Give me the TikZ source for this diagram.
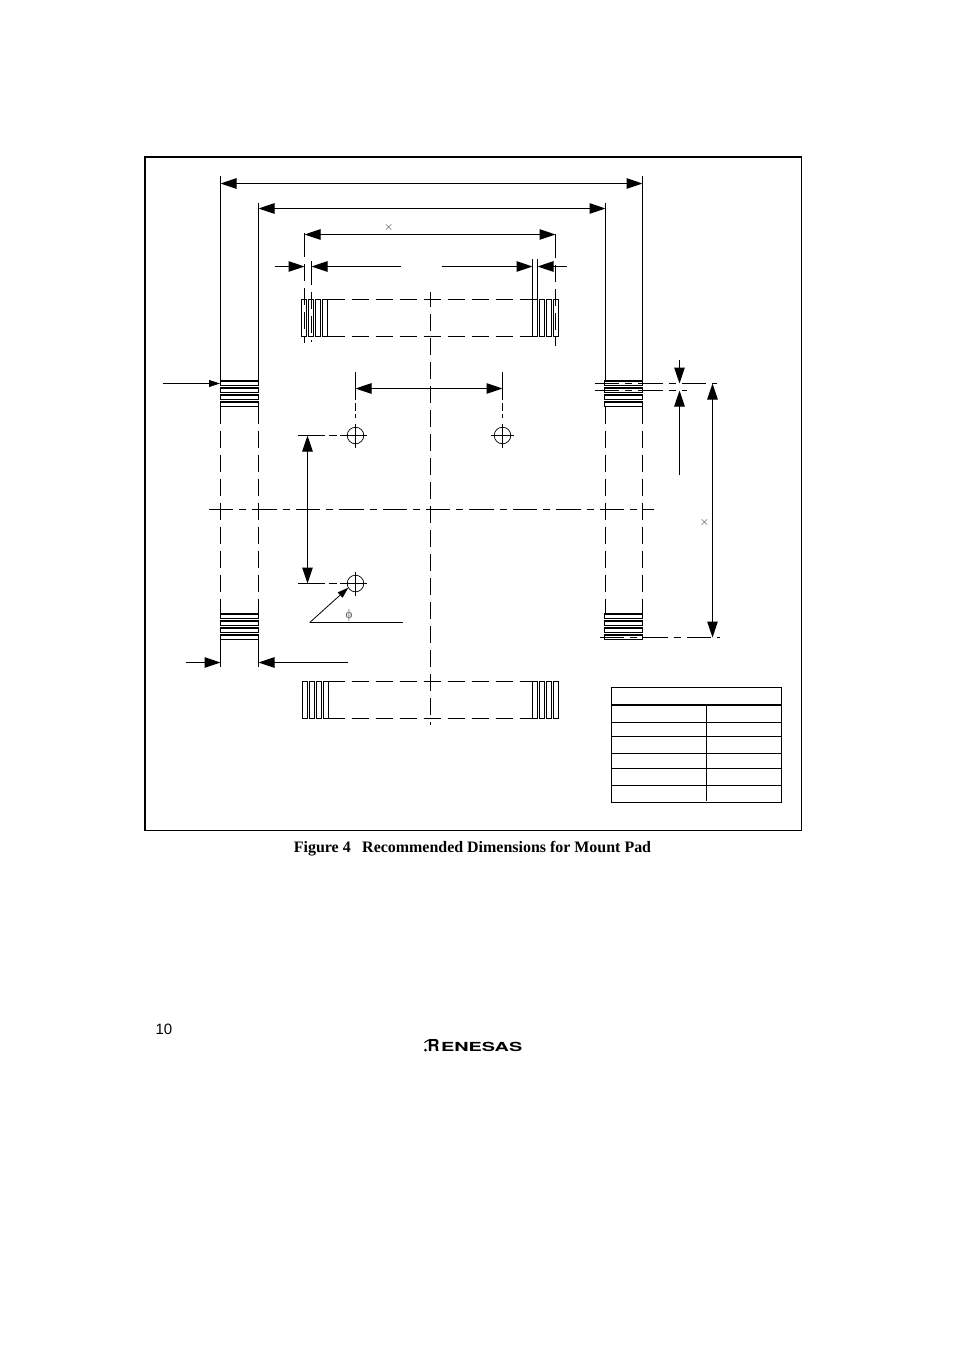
\documentclass[tikz,border=0pt]{standalone}
\usepackage{fontspec}
\setmainfont{Liberation Serif}
\newfontfamily\arialf{Liberation Sans}
\newfontfamily\logof{TeX Gyre Heros}
\usetikzlibrary{arrows.meta}
\tikzset{
  ln/.style={line width=1pt,black},
  padln/.style={line width=1pt,black},
  dsh/.style={ln,dash pattern=on 17pt off 7pt},
  extd/.style={ln,dash pattern=on 24pt off 7pt on 17pt off 7pt on 17pt off 7pt on 17pt off 7pt on 40pt off 10pt},
  holed/.style={ln,dash pattern=on 27.5pt off 3.5pt on 8pt off 3pt on 4pt off 100pt},
  cdl/.style={ln,dash pattern=on 24.3pt off 6pt on 7pt off 6.1pt},
  dimboth/.style={ln,{Triangle[length=16pt,width=10.5pt]}-{Triangle[length=16pt,width=10.5pt]}},
  dimend/.style={ln,-{Triangle[length=16pt,width=10.5pt]}},
  smallend/.style={ln,-{Triangle[length=11pt,width=7pt]}},
  lab/.style={inner sep=0pt,outer sep=0pt}
}
\begin{document}
\begin{tikzpicture}[x=1pt,y=-1pt]
\useasboundingbox (0,0) rectangle (954,1350);
\fill[white] (0,0) rectangle (954,1350);
% frame
\draw[line width=1pt] (145.5,157.5) rectangle (801.5,830.5);
\draw[line width=2pt] (145,830.5) -- (145,157) -- (802,157);
% outer dimensions
\draw[ln] (220.5,176) -- (220.5,380);
\draw[ln] (642.5,176) -- (642.5,380);
\draw[dimboth] (220.5,183.5) -- (642.5,183.5);
\draw[ln] (258.5,203) -- (258.5,380);
\draw[ln] (605.5,203) -- (605.5,380);
\draw[dimboth] (258.5,208.5) -- (605.5,208.5);
\draw[dimboth] (304.5,234.5) -- (555.5,234.5);
\node[lab,font=\fontsize{13}{13}\selectfont,text=black!80] (tA) at (388.8,227.8) {$\times$};
% extension lines pads
\draw[extd] (304.5,233) -- (304.5,343);
\draw[extd] (311.5,261) -- (311.5,342);
\draw[extd] (555.5,234) -- (555.5,346);
\draw[ln] (532.5,259) -- (532.5,299);
\draw[ln] (537.5,259) -- (537.5,336.5);
% narrow dims
\draw[dimend] (275,266.5) -- (304.5,266.5);
\draw[dimend] (400.5,266.5) -- (311.5,266.5);
\draw[dimend] (442,266.5) -- (532.5,266.5);
\draw[dimend] (567,266.5) -- (537.5,266.5);
% horizontal pads
\foreach \a in {301.5,308.5,315.5,322.5}
  \draw[padln] (\a,299.5) rectangle +(5,37);
\foreach \a in {532.5,539.5,546.5,553.5}
  \draw[padln] (\a,299.5) rectangle +(5,37);
\foreach \a in {302.5,309.5,316.5,323.5}
  \draw[padln] (\a,681.5) rectangle +(5,37);
\foreach \a in {532.5,539.5,546.5,553.5}
  \draw[padln] (\a,681.5) rectangle +(5,37);
\draw[dsh] (327.5,299.5) -- (532.5,299.5);
\draw[dsh] (327.5,336.5) -- (532.5,336.5);
\draw[dsh] (327.5,681.5) -- (532.5,681.5);
\draw[dsh] (327.5,718.5) -- (532.5,718.5);
% vertical pads
\foreach \x in {220.5,604.5}{
  \foreach \y in {380,387,394,401,613,620,627,634}{
    \draw[line width=1pt] (\x,\y+1) rectangle +(38,4.5);
    \draw[line width=2pt] (\x-0.5,\y+1) -- +(39,0);
  }
}
% side dashed
\foreach \x in {220.5,258.5,605.5,642.5}
  \draw[dsh] (\x,406.5) -- (\x,613.3);
% centre lines
\draw[ln,dash pattern=on 17pt off 7pt,dash phase=2pt] (430.5,292) -- (430.5,725);
\draw[cdl] (209,509.5) -- (654,509.5);
% bottom-left width dim
\draw[ln] (220.5,639.6) -- (220.5,667);
\draw[ln] (258.5,639.6) -- (258.5,667);
\draw[dimend] (186,662.5) -- (220.5,662.5);
\draw[dimend] (348,662.5) -- (258.5,662.5);
\draw[smallend] (163,383.5) -- (220,383.5);
% right dims
\draw[cdl] (595,383.5) -- (717,383.5);
\draw[cdl] (595,390.5) -- (687,390.5);
\draw[cdl] (600,637.5) -- (720,637.5);
\draw[dimend] (679.5,360) -- (679.5,383.5);
\draw[dimend] (679.5,475) -- (679.5,390.5);
\draw[dimboth] (712.5,383.5) -- (712.5,637.5);
\node[lab,font=\fontsize{13}{13}\selectfont,text=black!80] (tB) at (704.5,522.5) {$\times$};
% holes
\foreach \n/\x/\y in {h1/355.5/435.5,h2/502.5/435.5,h3/355.5/583.5}{
  \node[circle,draw,line width=0.7pt,minimum size=16.6pt,inner sep=0pt,outer sep=0pt] (\n) at (\x,\y) {};
  \draw[line width=1pt] (\x-11.5,\y) -- (\x+11.5,\y) (\x,\y-12) -- (\x,\y+12);
}
\draw[holed] (355.5,372) -- (355.5,424);
\draw[holed] (502.5,372) -- (502.5,424);
\draw[dimboth] (355.5,388.5) -- (502.5,388.5);
\draw[holed] (297.7,435.5) -- (344,435.5);
\draw[holed] (297.7,583.5) -- (344,583.5);
\draw[dimboth] (307.5,435.5) -- (307.5,583.5);
\draw[ln] (403,622.5) -- (309.7,622.5);
\draw[smallend,line width=0.8pt] (309.7,622.5) -- (348.3,587.7);
\node[lab,font=\fontsize{13}{13}\selectfont,text=black!65] (tP) at (349,615.7) {\char"03D5};
% table
\draw[ln] (611.5,687.5) rectangle (781.5,802.5);
\draw[line width=2pt] (611.5,705) -- (781.5,705);
\foreach \y in {722.5,736.5,753.5,768.5,785.5}
  \draw[ln] (611.5,\y) -- (781.5,\y);
\draw[ln] (706.5,705) -- (706.5,801);
% text
\node[lab,font=\bfseries\fontsize{15.95}{15.95}\selectfont] (cap) at (472.5,849) {Figure 4\hspace{11.5pt}Recommended Dimensions for Mount Pad};
\node[lab,anchor=west,font=\arialf\fontsize{15}{15}\selectfont] (pg) at (155.5,1029) {10};
\node[lab,anchor=base west,font=\logof\bfseries\fontsize{16.5}{16.5}\selectfont] (logoR) at (427.5,1051) {R};
\node[lab,anchor=base west,font=\logof\bfseries] (logoT) at (441,1051) {\scalebox{1.59}[1]{\fontsize{12.5}{12.5}\selectfont ENESAS}};
\draw[line width=1pt] (424.5,1042.5) .. controls (426,1040.5) and (429,1039.7) .. (433,1039.5);
\fill (425.5,1050) circle (1.5pt);
\end{tikzpicture}
\end{document}
